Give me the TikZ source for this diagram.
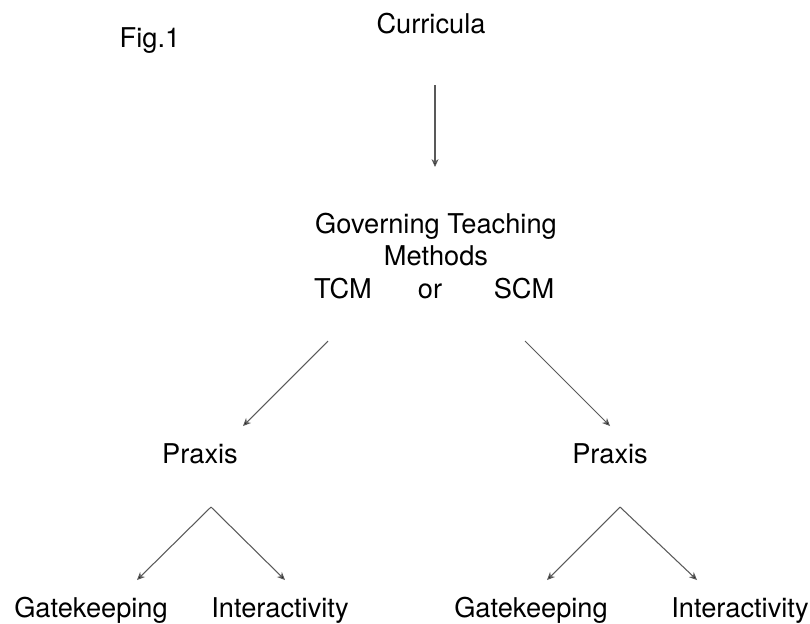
\documentclass[tikz,border=0pt]{standalone}
\usepackage{fontspec}
\setmainfont{TeX Gyre Heros}
\usepackage{tikz}
\usetikzlibrary{arrows.meta}

\begin{document}
\begin{tikzpicture}[x=0.02cm,y=-0.02cm,
  txt/.style={anchor=base,inner sep=0pt,font=\fontsize{15.5}{19}\selectfont},
  arr/.style={draw=black!65,line width=0.6pt,-{Stealth[length=4.5pt,width=4pt,fill=black]}}]
\useasboundingbox (0,0) rectangle (810,623);
% labels
\node (fig) [txt] at (150,47) {Fig.1};
\node (cur) [txt] at (431,33) {Curricula};
\node (gov) [txt] at (436,233) {Governing Teaching};
\node (meth) [txt] at (436,265) {Methods};
\node (tcm) [txt] at (343,298) {TCM};
\node (orr) [txt] at (430,298) {or};
\node (scm) [txt] at (524,298) {SCM};
\node (praxL) [txt] at (200,463) {Praxis};
\node (praxR) [txt] at (610,463) {Praxis};
\node (gateL) [txt] at (91,617) {Gatekeeping};
\node (interL) [txt] at (280,617) {Interactivity};
\node (gateR) [txt] at (531,617) {Gatekeeping};
\node (interR) [txt] at (740,617) {Interactivity};
% arrows
\draw [arr] ([shift={(4,52)}]cur.base) -- ([shift={(-1,-66)}]gov.base);
\draw [arr] ([shift={(-15,43)}]tcm.base) -- ([shift={(43,-37)}]praxL.base);
\draw [arr] ([shift={(1,43)}]scm.base) -- ([shift={(0,-37)}]praxR.base);
\draw [arr] ([shift={(11,44)}]praxL.base) -- ([shift={(46,-37)}]gateL.base);
\draw [arr] ([shift={(11,44)}]praxL.base) -- ([shift={(5,-37)}]interL.base);
\draw [arr] ([shift={(10,44)}]praxR.base) -- ([shift={(16,-37)}]gateR.base);
\draw [arr] ([shift={(10,44)}]praxR.base) -- ([shift={(-43,-37)}]interR.base);
\end{tikzpicture}
\end{document}
